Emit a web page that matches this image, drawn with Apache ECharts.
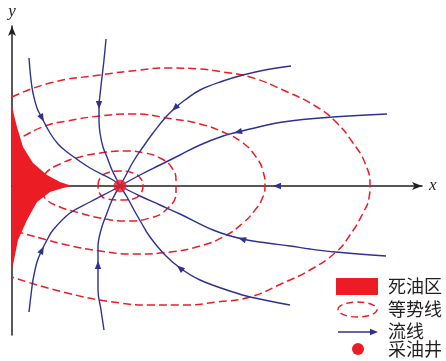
<!DOCTYPE html>
<html>
<head>
<meta charset="utf-8">
<script src="https://cdn.jsdelivr.net/npm/echarts@6/dist/echarts.min.js"></script>
<style>
  html, body { margin: 0; padding: 0; background: #fff; }
  #chart { width: 446px; height: 361px; }
</style>
</head>
<body>
<div id="chart"></div>
<script>
// Flow toward a production well (at [108, 0]) near a boundary on the y axis.
const wellPos = [[108, 0]];

// Dead-oil zone hugging the y axis, with its thin tip along the x axis.
const deadZone = [[0, 80], [2, 71], [5, 59], [11, 39], [21, 23], [35, 11], [48, 4], [60, 0],
  [51, -2], [38, -6], [25, -16], [15, -34], [6, -54], [1, -79], [0, -82]];

// Equipotential lines, innermost first.
const ring1 = [[86, 0], [88, 8], [95, 13], [108, 15], [121, 13], [129, 7], [131, 0], [129, -7],
  [121, -13], [108, -14], [95, -13], [88, -8], [86, 0]];
const ring2 = [[28, 0], [33, 12], [48, 22], [68, 29], [88, 33], [113, 35], [133, 33], [150, 27],
  [160, 18], [164, 6], [164, -6], [156, -22], [138, -32], [115, -35], [88, -32], [68, -27],
  [48, -21], [33, -12], [28, 0]];
const ring3 = [[1, 44], [10, 49], [33, 60], [55, 65], [88, 70], [121, 72], [161, 67], [188, 62],
  [211, 54], [231, 43], [244, 29], [251, 15], [253, 0], [250, -13], [243, -24], [231, -37],
  [211, -51], [188, -60], [158, -66], [121, -68], [88, -65], [55, -59], [28, -52], [10, -47], [1, -44]];
const ring4 = [[0, 89], [38, 103], [88, 111], [128, 116], [155, 118], [188, 117], [211, 114],
  [238, 109], [271, 96], [305, 79], [325, 63], [341, 43], [353, 23], [358, 1], [357, -12],
  [351, -27], [338, -49], [324, -66], [298, -84], [271, -97], [238, -111], [205, -116],
  [171, -119], [138, -119], [108, -117], [55, -107], [0, -91]];
const rings = [ring1, ring2, ring3, ring4];

// Streamlines, each running into the well.
const flow1 = [[17, 128], [19, 106], [21, 93], [25, 78], [30, 68], [38, 53], [46, 42], [55, 34],
  [78, 18], [101, 6], [108, 0]];
const flow2 = [[94, 147], [92, 126], [90, 109], [88, 91], [87, 81], [87, 66], [88, 53], [91, 39],
  [95, 29], [100, 16], [105, 6], [108, 0]];
const flow3 = [[279, 120], [253, 116], [231, 111], [211, 105], [188, 96], [173, 86], [163, 78],
  [153, 68], [141, 53], [131, 39], [121, 24], [113, 9], [108, 0]];
const flow4 = [[375, 72], [321, 69], [271, 64], [238, 57], [226, 54], [211, 50], [188, 41],
  [168, 31], [148, 21], [128, 11], [108, 0]];
const flow6 = [[374, -70], [324, -66], [298, -63], [278, -60], [255, -57], [230, -53], [201, -44],
  [168, -28], [148, -19], [128, -10], [108, 0]];
const flow7 = [[278, -119], [238, -111], [221, -106], [188, -94], [168, -82], [153, -69],
  [138, -51], [130, -38], [122, -24], [115, -11], [108, 0]];
const flow8 = [[92, -144], [89, -124], [86, -104], [86, -79], [86, -61], [89, -44], [95, -27],
  [101, -12], [108, 0]];
const flow9 = [[17, -126], [19, -109], [21, -94], [25, -76], [30, -64], [35, -54], [41, -44],
  [58, -27], [78, -16], [101, -4], [108, 0]];
const flowLines = [flow1, flow2, flow3, flow4, flow6, flow7, flow8, flow9];
// The x axis itself is also a streamline (drawn by the axis line).
const axisFlow = [[409, 0], [265, 0], [108, 0]];

// Arrowheads: which line, and at which of its points (pointing to the next one).
const arrowMarks = [[flow1, 4], [flow2, 4], [flow3, 6], [flow4, 4], [axisFlow, 1],
  [flow6, 5], [flow7, 4], [flow8, 3], [flow9, 4]];

const legendNames = ['死油区', '等势线', '流线', '采油井'];

const RED = '#ec1c24';
const BLUE = '#2e3192';
const INK = '#231f20';

const chart = echarts.init(document.getElementById('chart'));

const series = [];
rings.forEach(r => series.push({
  type: 'line', data: r, smooth: 0.5, showSymbol: false, silent: true, clip: false, z: 2,
  lineStyle: { color: RED, width: 1.5, type: [8, 4] }
}));
series.push({
  type: 'custom', silent: true, z: 3, clip: false,
  data: [[0, 0]],
  renderItem: (params, api) => ({
    type: 'polygon',
    shape: { points: deadZone.map(p => api.coord(p)) },
    style: { fill: RED }
  })
});
flowLines.forEach(f => series.push({
  type: 'line', data: f, smooth: 0.4, showSymbol: false, silent: true, clip: false, z: 4,
  lineStyle: { color: BLUE, width: 1.4 }
}));
series.push({
  type: 'custom', silent: true, z: 5, clip: false,
  data: arrowMarks.map((m, i) => m[0][m[1]].concat([i])),
  renderItem: (params, api) => {
    const m = arrowMarks[params.dataIndex];
    const p = api.coord(m[0][m[1]]);
    const q = api.coord(m[0][m[1] + 1]);
    const a = Math.atan2(q[1] - p[1], q[0] - p[0]);
    const L = 8, W = 3.2;
    const tip = [p[0] + Math.cos(a) * L / 2, p[1] + Math.sin(a) * L / 2];
    const bx = p[0] - Math.cos(a) * L / 2, by = p[1] - Math.sin(a) * L / 2;
    const nx = -Math.sin(a) * W, ny = Math.cos(a) * W;
    return {
      type: 'polygon',
      shape: { points: [tip, [bx + nx, by + ny], [bx - nx, by - ny]] },
      style: { fill: BLUE }
    };
  }
});
series.push({
  type: 'scatter', data: wellPos, symbol: 'circle', symbolSize: 13, silent: true, z: 6,
  itemStyle: { color: RED }
});

const txt = (y, s) => ({
  type: 'text', left: 388, top: y - 10,
  style: { text: s, font: '18px "Noto Sans CJK SC"', fill: INK }
});

chart.setOption({
  animation: false,
  grid: { left: 12, right: 24, top: 26, bottom: 26 },
  xAxis: {
    type: 'value', min: 0, max: 410,
    name: 'x', nameLocation: 'end', nameGap: 7,
    nameTextStyle: { fontFamily: 'Liberation Serif', fontStyle: 'italic', fontSize: 17, color: INK, verticalAlign: 'middle' },
    axisLine: { onZero: true, lineStyle: { color: INK, width: 1.5 }, symbol: ['none', 'arrow'], symbolSize: [6, 10] },
    axisTick: { show: false }, axisLabel: { show: false }, splitLine: { show: false }
  },
  yAxis: {
    type: 'value', min: -149, max: 160,
    name: 'y', nameLocation: 'end', nameGap: 6,
    nameTextStyle: { fontFamily: 'Liberation Serif', fontStyle: 'italic', fontSize: 17, color: INK, align: 'center' },
    axisLine: { onZero: true, lineStyle: { color: INK, width: 1.5 }, symbol: ['none', 'arrow'], symbolSize: [6, 10] },
    axisTick: { show: false }, axisLabel: { show: false }, splitLine: { show: false }
  },
  series: series,
  graphic: [
    { type: 'rect', shape: { x: 336, y: 278, width: 42, height: 17 }, style: { fill: RED } },
    { type: 'ellipse', shape: { cx: 357.5, cy: 309.5, rx: 19.5, ry: 7.5 },
      style: { fill: 'none', stroke: RED, lineWidth: 1.4, lineDash: [7, 4] } },
    { type: 'line', shape: { x1: 338, y1: 332, x2: 372, y2: 332 }, style: { stroke: BLUE, lineWidth: 1.4 } },
    { type: 'polygon', shape: { points: [[378, 332], [370, 328.8], [370, 335.2]] }, style: { fill: BLUE } },
    { type: 'circle', shape: { cx: 358, cy: 349, r: 6 }, style: { fill: RED } },
    txt(287, legendNames[0]),
    txt(310, legendNames[1]),
    txt(332, legendNames[2]),
    txt(350, legendNames[3])
  ]
});
</script>
</body>
</html>
